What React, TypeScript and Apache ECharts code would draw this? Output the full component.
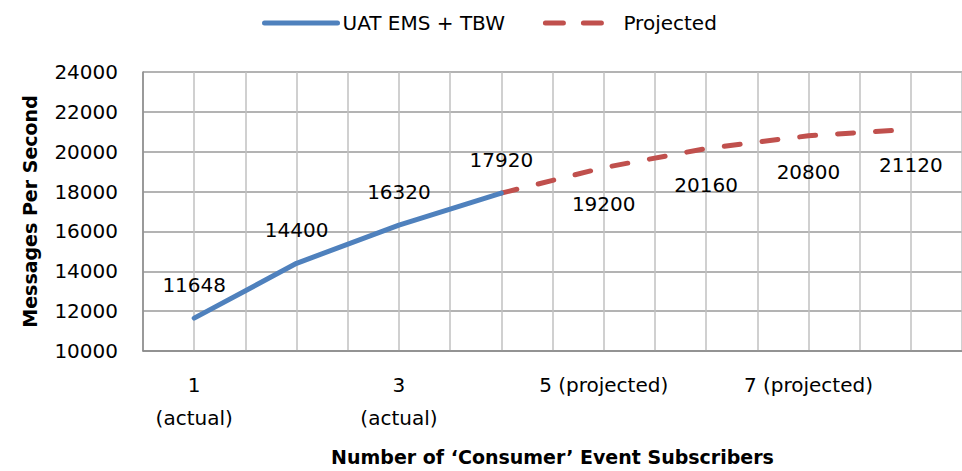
import React, { useEffect, useRef } from "react";
import * as echarts from "echarts";

const categories = ["1\n(actual)", "2", "3\n(actual)", "4", "5 (projected)", "6", "7 (projected)", "8"];
const actualValues: (number | null)[] = [11648, 14400, 16320, 17920, null, null, null, null];
const projectedValues: (number | null)[] = [null, null, null, 17920, 19200, 20160, 20800, 21120];
const halfSteps = ["a", "b", "c", "d", "e", "f", "g", "h", "i", "j", "k", "l", "m", "n", "o", "p"];
const yMin = 10000;
const yMax = 24000;
const yInterval = 2000;

const FONT = "DejaVu Sans";
const CLEAR = "rgba(0,0,0,0)";

export default function App() {
  const ref = useRef<HTMLDivElement>(null);
  useEffect(() => {
    if (!ref.current) return;
    const chart = echarts.init(ref.current, undefined, { renderer: "svg" });
    const projectedData = projectedValues.map((v, i) =>
      i === 3 ? { value: v, label: { show: false } } : v
    );
    chart.setOption({
      animation: false,
      backgroundColor: "#ffffff",
      textStyle: { fontFamily: FONT },
      legend: {
        left: 257,
        top: 8,
        itemWidth: 73,
        itemHeight: 18,
        itemGap: 38,
        textStyle: { fontFamily: FONT, fontSize: 20, color: "#000" },
        data: [
          {
            name: "UAT EMS + TBW",
            lineStyle: { color: "#4F81BD", width: 5, cap: "round" },
          },
          {
            name: "Projected",
            lineStyle: { color: "#C0504D", width: 5, type: [18, 20], cap: "round" },
          },
        ],
      },
      grid: { left: 143, right: 0, top: 72, bottom: 120, containLabel: false },
      xAxis: [
        {
          type: "category",
          data: categories,
          boundaryGap: true,
          axisLine: { show: true, lineStyle: { color: "#888888", width: 1.5 } },
          axisTick: { show: false },
          axisLabel: {
            interval: 1,
            margin: 17,
            fontFamily: FONT,
            fontSize: 20,
            lineHeight: 33,
            color: "#000",
          },
          splitLine: { show: false },
          name: "Number of \u2018Consumer\u2019 Event Subscribers",
          nameLocation: "middle",
          nameGap: 96,
          nameTextStyle: { fontFamily: FONT, fontSize: 19, fontWeight: "bold", color: "#000" },
        },
        {
          type: "category",
          data: halfSteps,
          position: "bottom",
          boundaryGap: true,
          axisLine: { show: false },
          axisTick: { show: false },
          axisLabel: { show: false },
          splitLine: { show: true, interval: 0, lineStyle: { color: "#c0c0c0", width: 1.5 } },
        },
      ],
      yAxis: {
        type: "value",
        min: yMin,
        max: yMax,
        interval: yInterval,
        axisLine: { show: true, lineStyle: { color: "#888888", width: 1.5 } },
        axisTick: { show: false },
        axisLabel: {
          margin: 25,
          fontFamily: FONT,
          fontSize: 20,
          color: "#000",
          formatter: (v: number) => String(v),
        },
        splitLine: { show: true, lineStyle: { color: "#9a9a9a", width: 1.5 } },
        name: "Messages Per Second",
        nameLocation: "middle",
        nameRotate: 90,
        nameGap: 104,
        nameTextStyle: { fontFamily: FONT, fontSize: 19, fontWeight: "bold", color: "#000" },
      },
      series: [
        {
          name: "UAT EMS + TBW",
          type: "line",
          xAxisIndex: 0,
          data: actualValues,
          symbol: "circle",
          symbolSize: 2,
          showSymbol: true,
          showAllSymbol: true,
          connectNulls: false,
          z: 3,
          lineStyle: { color: "#4F81BD", width: 5, cap: "round" },
          itemStyle: { color: CLEAR, borderWidth: 0 },
          label: {
            show: true,
            position: "top",
            distance: 22,
            fontFamily: FONT,
            fontSize: 20,
            color: "#000",
          },
        },
        {
          name: "Projected",
          type: "line",
          xAxisIndex: 0,
          data: projectedData,
          symbol: "circle",
          symbolSize: 2,
          showSymbol: true,
          showAllSymbol: true,
          z: 2,
          lineStyle: { color: "#C0504D", width: 5, type: [16, 22], cap: "round" },
          itemStyle: { color: CLEAR, borderWidth: 0 },
          label: {
            show: true,
            position: "bottom",
            distance: 25,
            fontFamily: FONT,
            fontSize: 20,
            color: "#000",
          },
        },
      ],
    });
    return () => chart.dispose();
  }, []);
  return (
    <div
      ref={ref}
      style={{ position: "fixed", left: 0, top: 0, width: 962, height: 471, background: "#fff" }}
    />
  );
}
